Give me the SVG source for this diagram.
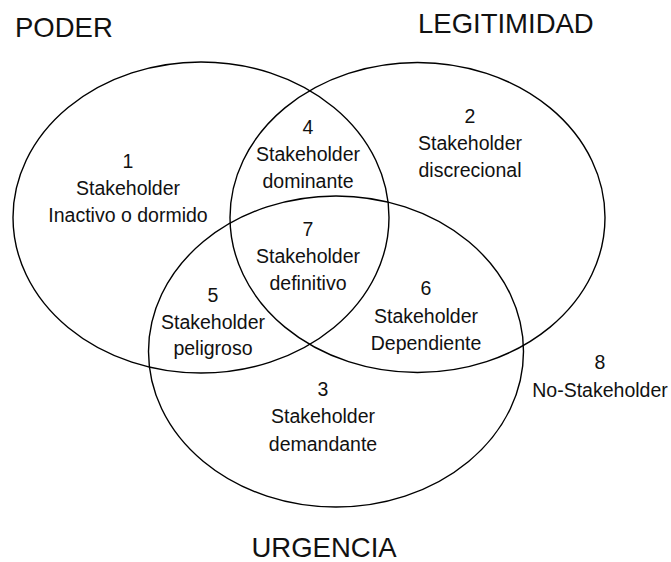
<svg xmlns="http://www.w3.org/2000/svg" width="671" height="562" viewBox="0 0 671 562">
<style>
.c{fill:none;stroke:#000;stroke-width:1.4}
.t{font-family:"Liberation Sans",Arial,sans-serif;font-size:19.5px;fill:#111;text-anchor:middle}
.h{font-family:"Liberation Sans",Arial,sans-serif;font-size:27.5px;fill:#111}
</style>
<rect width="671" height="562" fill="#fff"/>
<g id="sets">
<ellipse id="poder" class="c" cx="201" cy="217.5" rx="188" ry="155.5"/>
<ellipse id="legitimidad" class="c" cx="417.5" cy="217.5" rx="187.5" ry="155"/>
<ellipse id="urgencia" class="c" cx="336" cy="351.5" rx="187.5" ry="155.5"/>
</g>
<g id="titles">
<text class="h" x="15" y="36.5">PODER</text>
<text class="h" x="418" y="33">LEGITIMIDAD</text>
<text class="h" x="251.5" y="556.5">URGENCIA</text>
</g>
<g id="r1" class="t"><text x="128" y="168">1</text><text x="128" y="195">Stakeholder</text><text x="128" y="222">Inactivo o dormido</text></g>
<g id="r2" class="t"><text x="470" y="122.5">2</text><text x="470" y="150">Stakeholder</text><text x="470" y="177">discrecional</text></g>
<g id="r4" class="t"><text x="308" y="134">4</text><text x="308" y="161">Stakeholder</text><text x="308" y="188">dominante</text></g>
<g id="r7" class="t"><text x="308" y="236">7</text><text x="308" y="263">Stakeholder</text><text x="308" y="290">definitivo</text></g>
<g id="r5" class="t"><text x="213" y="302">5</text><text x="213" y="328.5">Stakeholder</text><text x="213" y="355">peligroso</text></g>
<g id="r6" class="t"><text x="426" y="295">6</text><text x="426" y="323">Stakeholder</text><text x="426" y="350">Dependiente</text></g>
<g id="r3" class="t"><text x="323" y="396">3</text><text x="323" y="423">Stakeholder</text><text x="323" y="450.5">demandante</text></g>
<g id="r8" class="t"><text x="600" y="369">8</text><text x="600" y="396.5">No-Stakeholder</text></g>
</svg>
